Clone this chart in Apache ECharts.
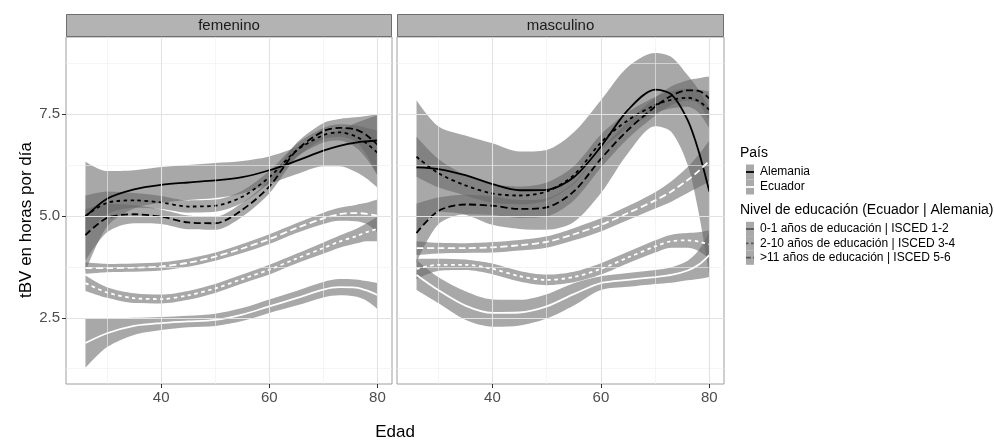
<!DOCTYPE html>
<html><head><meta charset="utf-8">
<script src="https://cdn.jsdelivr.net/npm/echarts@6/dist/echarts.min.js"></script>
<style>html,body{margin:0;padding:0;background:#fff}#c{width:994px;height:441px}</style>
</head><body><div id="c"></div>
<script>
// ---------- DATA ----------
const facets = ['femenino', 'masculino'];
const countries = ['Alemania', 'Ecuador'];
const eduLevels = ['0-1 años de educación | ISCED 1-2', '2-10 años de educación | ISCED 3-4', '>11 años de educación | ISCED 5-6'];
const ages = [26, 30, 35, 40, 45, 50, 55, 60, 65, 70, 73, 76, 78, 80];
const yTicks = [2.5, 5.0, 7.5];
const xTicks = [40, 60, 80];
const yGrid = [1.25, 2.5, 3.75, 5.0, 6.25, 7.5, 8.75];
const xGrid = [30, 40, 50, 60, 70, 80];

// femenino - Alemania
const fem_de_e1    = [4.98, 5.42, 5.65, 5.76, 5.82, 5.87, 5.95, 6.12, 6.35, 6.60, 6.72, 6.80, 6.83, 6.85];
const fem_de_e1_hi = [6.33, 6.10, 6.12, 6.20, 6.25, 6.30, 6.35, 6.46, 6.68, 6.95, 7.10, 7.28, 7.38, 7.47];
const fem_de_e1_lo = [3.63, 4.74, 5.18, 5.32, 5.39, 5.44, 5.55, 5.78, 6.02, 6.22, 6.22, 6.08, 5.92, 5.70];
const fem_de_e2    = [5.00, 5.32, 5.38, 5.33, 5.23, 5.25, 5.47, 5.95, 6.60, 6.98, 7.05, 6.95, 6.78, 6.55];
const fem_de_e2_hi = [5.50, 5.60, 5.56, 5.49, 5.38, 5.40, 5.62, 6.10, 6.76, 7.16, 7.25, 7.22, 7.16, 7.10];
const fem_de_e2_lo = [4.50, 5.04, 5.20, 5.17, 5.08, 5.10, 5.32, 5.80, 6.44, 6.80, 6.85, 6.68, 6.40, 6.00];
const fem_de_e3    = [4.53, 4.95, 5.04, 4.98, 4.84, 4.82, 5.15, 5.72, 6.60, 7.08, 7.16, 7.12, 6.98, 6.75];
const fem_de_e3_hi = [5.16, 5.30, 5.26, 5.16, 5.01, 4.98, 5.32, 5.89, 6.78, 7.28, 7.38, 7.42, 7.45, 7.50];
const fem_de_e3_lo = [3.90, 4.60, 4.82, 4.80, 4.67, 4.66, 4.98, 5.55, 6.42, 6.88, 6.94, 6.82, 6.50, 6.00];
// femenino - Ecuador
const fem_ec_e1    = [1.88, 2.12, 2.30, 2.37, 2.41, 2.45, 2.58, 2.78, 2.98, 3.19, 3.25, 3.24, 3.17, 3.06];
const fem_ec_e1_hi = [2.49, 2.49, 2.50, 2.52, 2.55, 2.60, 2.74, 2.95, 3.16, 3.38, 3.45, 3.44, 3.40, 3.35];
const fem_ec_e1_lo = [1.27, 1.78, 2.08, 2.20, 2.27, 2.30, 2.42, 2.62, 2.80, 3.00, 3.05, 3.02, 2.92, 2.72];
const fem_ec_e2    = [3.35, 3.12, 2.98, 2.96, 3.05, 3.22, 3.45, 3.68, 3.95, 4.21, 4.37, 4.50, 4.60, 4.68];
const fem_ec_e2_hi = [3.54, 3.25, 3.10, 3.07, 3.16, 3.33, 3.56, 3.80, 4.07, 4.35, 4.52, 4.68, 4.82, 4.98];
const fem_ec_e2_lo = [3.16, 2.99, 2.86, 2.85, 2.94, 3.11, 3.34, 3.56, 3.83, 4.07, 4.22, 4.32, 4.38, 4.38];
const fem_ec_e3    = [3.72, 3.72, 3.73, 3.76, 3.85, 4.00, 4.20, 4.43, 4.70, 4.94, 5.04, 5.07, 5.05, 5.00];
const fem_ec_e3_hi = [3.86, 3.82, 3.83, 3.86, 3.95, 4.10, 4.31, 4.55, 4.82, 5.08, 5.20, 5.27, 5.32, 5.40];
const fem_ec_e3_lo = [3.58, 3.62, 3.63, 3.66, 3.75, 3.90, 4.09, 4.31, 4.58, 4.80, 4.88, 4.87, 4.80, 4.60];
// masculino - Alemania
const mas_de_e1    = [6.19, 6.15, 6.00, 5.78, 5.63, 5.64, 5.95, 6.70, 7.60, 8.10, 7.98, 7.35, 6.60, 5.60];
const mas_de_e1_hi = [7.84, 7.20, 6.97, 6.78, 6.58, 6.62, 7.05, 7.84, 8.66, 9.00, 8.90, 8.45, 8.10, 7.65];
const mas_de_e1_lo = [4.55, 5.10, 5.03, 4.78, 4.68, 4.66, 4.85, 5.56, 6.54, 7.20, 7.06, 6.25, 5.10, 3.55];
const mas_de_e2    = [6.45, 6.05, 5.75, 5.55, 5.50, 5.60, 6.00, 6.80, 7.35, 7.72, 7.85, 7.90, 7.82, 7.60];
const mas_de_e2_hi = [6.94, 6.40, 6.00, 5.78, 5.72, 5.82, 6.22, 7.00, 7.55, 7.92, 8.06, 8.12, 8.10, 8.05];
const mas_de_e2_lo = [5.96, 5.70, 5.50, 5.32, 5.28, 5.38, 5.78, 6.60, 7.15, 7.52, 7.64, 7.68, 7.54, 7.15];
const mas_de_e3    = [4.58, 5.12, 5.28, 5.25, 5.17, 5.21, 5.60, 6.40, 7.11, 7.68, 7.95, 8.08, 8.07, 7.88];
const mas_de_e3_hi = [5.30, 5.45, 5.52, 5.48, 5.39, 5.43, 5.82, 6.62, 7.32, 7.90, 8.18, 8.33, 8.38, 8.42];
const mas_de_e3_lo = [3.86, 4.79, 5.04, 5.02, 4.95, 4.99, 5.38, 6.18, 6.90, 7.46, 7.72, 7.83, 7.76, 7.34];
// masculino - Ecuador
const mas_ec_e1    = [3.55, 3.18, 2.80, 2.62, 2.63, 2.78, 3.08, 3.35, 3.43, 3.50, 3.55, 3.66, 3.80, 4.04];
const mas_ec_e1_hi = [3.92, 3.50, 3.15, 2.95, 2.94, 3.08, 3.35, 3.52, 3.60, 3.67, 3.74, 3.90, 4.15, 4.60];
const mas_ec_e1_lo = [3.18, 2.86, 2.45, 2.28, 2.31, 2.48, 2.80, 3.18, 3.26, 3.33, 3.36, 3.42, 3.45, 3.50];
const mas_ec_e2    = [3.70, 3.80, 3.80, 3.70, 3.52, 3.43, 3.50, 3.70, 3.98, 4.25, 4.38, 4.40, 4.37, 4.30];
const mas_ec_e2_hi = [3.95, 3.95, 3.93, 3.83, 3.65, 3.56, 3.63, 3.84, 4.12, 4.40, 4.54, 4.58, 4.60, 4.65];
const mas_ec_e2_lo = [3.45, 3.65, 3.67, 3.57, 3.39, 3.30, 3.37, 3.56, 3.84, 4.10, 4.22, 4.22, 4.14, 3.95];
const mas_ec_e3    = [4.21, 4.21, 4.21, 4.23, 4.28, 4.36, 4.55, 4.78, 5.07, 5.38, 5.60, 5.88, 6.10, 6.35];
const mas_ec_e3_hi = [4.38, 4.34, 4.33, 4.36, 4.41, 4.50, 4.70, 4.94, 5.24, 5.58, 5.85, 6.20, 6.50, 6.85];
const mas_ec_e3_lo = [4.04, 4.08, 4.09, 4.10, 4.15, 4.22, 4.40, 4.62, 4.90, 5.18, 5.35, 5.56, 5.70, 5.85];

// ---------- STRUCTURE ----------
const curves = [
  {f:0, c:0, e:0, y:fem_de_e1, hi:fem_de_e1_hi, lo:fem_de_e1_lo},
  {f:0, c:0, e:1, y:fem_de_e2, hi:fem_de_e2_hi, lo:fem_de_e2_lo},
  {f:0, c:0, e:2, y:fem_de_e3, hi:fem_de_e3_hi, lo:fem_de_e3_lo},
  {f:0, c:1, e:0, y:fem_ec_e1, hi:fem_ec_e1_hi, lo:fem_ec_e1_lo},
  {f:0, c:1, e:1, y:fem_ec_e2, hi:fem_ec_e2_hi, lo:fem_ec_e2_lo},
  {f:0, c:1, e:2, y:fem_ec_e3, hi:fem_ec_e3_hi, lo:fem_ec_e3_lo},
  {f:1, c:0, e:0, y:mas_de_e1, hi:mas_de_e1_hi, lo:mas_de_e1_lo},
  {f:1, c:0, e:1, y:mas_de_e2, hi:mas_de_e2_hi, lo:mas_de_e2_lo},
  {f:1, c:0, e:2, y:mas_de_e3, hi:mas_de_e3_hi, lo:mas_de_e3_lo},
  {f:1, c:1, e:0, y:mas_ec_e1, hi:mas_ec_e1_hi, lo:mas_ec_e1_lo},
  {f:1, c:1, e:1, y:mas_ec_e2, hi:mas_ec_e2_hi, lo:mas_ec_e2_lo},
  {f:1, c:1, e:2, y:mas_ec_e3, hi:mas_ec_e3_hi, lo:mas_ec_e3_lo}
];

const FONT = '"Liberation Sans", Arial, Helvetica, sans-serif';
const RIBBON = 'rgba(102,102,102,0.57)';
const LINE_COLORS = ['#000000', '#ffffff'];
const DASHES = ['solid', [3.5, 3.5], [7, 3.5]];
const KEY_DASHES = [null, [2.5, 2.5], [5, 2]];
const SMOOTH = 0.3;

// same smoothing algorithm as ECharts line series
function smoothSeg(pts, smooth, cmds) {
  let cpx0 = pts[0][0], cpy0 = pts[0][1];
  let prevX = pts[0][0], prevY = pts[0][1];
  for (let k = 1; k < pts.length; k++) {
    const x = pts[k][0], y = pts[k][1];
    let cpx1, cpy1, nx0 = x, ny0 = y;
    if (k === pts.length - 1) { cpx1 = x; cpy1 = y; }
    else {
      const nextX = pts[k + 1][0], nextY = pts[k + 1][1];
      let vx = nextX - prevX, vy = nextY - prevY;
      const lenPrev = Math.hypot(x - prevX, y - prevY);
      const lenNext = Math.hypot(nextX - x, nextY - y);
      const ratio = lenNext / (lenNext + lenPrev);
      nx0 = x + vx * smooth * ratio; ny0 = y + vy * smooth * ratio;
      nx0 = Math.min(nx0, Math.max(nextX, x)); ny0 = Math.min(ny0, Math.max(nextY, y));
      nx0 = Math.max(nx0, Math.min(nextX, x)); ny0 = Math.max(ny0, Math.min(nextY, y));
      vx = nx0 - x; vy = ny0 - y;
      cpx1 = x - vx * lenPrev / lenNext; cpy1 = y - vy * lenPrev / lenNext;
      cpx1 = Math.min(cpx1, Math.max(prevX, x)); cpy1 = Math.min(cpy1, Math.max(prevY, y));
      cpx1 = Math.max(cpx1, Math.min(prevX, x)); cpy1 = Math.max(cpy1, Math.min(prevY, y));
      vx = x - cpx1; vy = y - cpy1;
      nx0 = x + vx * lenNext / lenPrev; ny0 = y + vy * lenNext / lenPrev;
    }
    cmds.push('C' + cpx0 + ',' + cpy0 + ',' + cpx1 + ',' + cpy1 + ',' + x + ',' + y);
    cpx0 = nx0; cpy0 = ny0; prevX = x; prevY = y;
  }
}

const grids = [
  {left: 66, top: 37, width: 326, height: 347, show: true, backgroundColor: '#fff', borderColor: '#9e9e9e', borderWidth: 1},
  {left: 397, top: 37, width: 327, height: 347, show: true, backgroundColor: '#fff', borderColor: '#9e9e9e', borderWidth: 1}
];

const xAxes = [0, 1].map(g => ({
  type: 'value', gridIndex: g, min: 22.4, max: 82.7,
  splitLine: {show: false}, axisLine: {show: false},
  axisTick: {show: true, customValues: xTicks, length: 4, lineStyle: {color: '#333'}},
  axisLabel: {customValues: xTicks, color: '#4d4d4d', fontSize: 15, fontFamily: FONT, margin: 6}
}));
const yAxes = [0, 1].map(g => ({
  type: 'value', gridIndex: g, min: 0.875, max: 9.39,
  splitLine: {show: false}, axisLine: {show: false},
  axisTick: {show: g === 0, customValues: yTicks, length: 4, lineStyle: {color: '#333'}},
  axisLabel: {show: g === 0, customValues: yTicks, color: '#4d4d4d', fontSize: 15, fontFamily: FONT, margin: 6,
    formatter: v => v.toFixed(1)}
}));

const series = [];
[0, 1].forEach(g => {
  // grid lines
  series.push({
    type: 'line', xAxisIndex: g, yAxisIndex: g, data: [], z: 1, silent: true,
    markLine: {
      silent: true, symbol: 'none', animation: false, label: {show: false},
      data: yGrid.map(v => ({yAxis: v, lineStyle: {color: yTicks.includes(v) ? '#e2e2e2' : '#eeeeee', width: yTicks.includes(v) ? 1.1 : 0.6, type: 'solid'}}))
        .concat(xGrid.map(v => ({xAxis: v, lineStyle: {color: xTicks.includes(v) ? '#e2e2e2' : '#eeeeee', width: xTicks.includes(v) ? 1.1 : 0.6, type: 'solid'}})))
    }
  });
  // confidence ribbons
  series.push({
    type: 'custom', xAxisIndex: g, yAxisIndex: g, z: 2, silent: true, clip: true,
    data: curves.map((c, i) => [50, 5, i]).filter(d => curves[d[2]].f === g),
    renderItem: (params, api) => {
      const c = curves[api.value(2)];
      const up = ages.map((a, k) => api.coord([a, c.hi[k]]));
      const lo = ages.map((a, k) => api.coord([a, c.lo[k]])).reverse();
      const cmds = ['M' + up[0][0] + ',' + up[0][1]];
      smoothSeg(up, SMOOTH, cmds);
      cmds.push('L' + lo[0][0] + ',' + lo[0][1]);
      smoothSeg(lo, SMOOTH, cmds);
      cmds.push('Z');
      return {type: 'path', shape: {pathData: cmds.join(' ')}, style: {fill: RIBBON}};
    }
  });
});
curves.forEach(c => {
  series.push({
    type: 'line', name: facets[c.f] + ' - ' + countries[c.c] + ' - ' + eduLevels[c.e],
    xAxisIndex: c.f, yAxisIndex: c.f, z: 3, silent: true,
    smooth: SMOOTH, showSymbol: false, symbol: 'none',
    data: ages.map((a, k) => [a, c.y[k]]),
    lineStyle: {color: LINE_COLORS[c.c], width: 1.8, type: DASHES[c.e]},
    emphasis: {disabled: true}
  });
});

// strips, titles, legend
const graphic = [];
[0, 1].forEach(g => {
  const gr = grids[g];
  graphic.push({type: 'rect', shape: {x: gr.left + 0.5, y: 14.5, width: gr.width - 1, height: 22}, style: {fill: '#b3b3b3', stroke: '#6e6e6e', lineWidth: 1}, z: 10});
  graphic.push({type: 'text', x: gr.left + gr.width / 2, y: 25.5, style: {text: facets[g], fill: '#1a1a1a', font: '15px ' + FONT, textAlign: 'center', textVerticalAlign: 'middle'}, z: 11});
});
graphic.push({type: 'text', x: 395, y: 432, style: {text: 'Edad', fill: '#000', font: '17px ' + FONT, textAlign: 'center', textVerticalAlign: 'middle'}});
graphic.push({type: 'text', x: 26, y: 220, rotation: Math.PI / 2, style: {text: 'tBV en horas por día', fill: '#000', font: '17px ' + FONT, textAlign: 'center', textVerticalAlign: 'middle'}});
// legend: País
graphic.push({type: 'text', x: 740, y: 153, style: {text: 'País', fill: '#000', font: '14px ' + FONT, textVerticalAlign: 'middle'}});
countries.forEach((name, i) => {
  const y = 172 + i * 15;
  graphic.push({type: 'rect', shape: {x: 746, y: y - 7.5, width: 8, height: 15}, style: {fill: '#a9a9a9'}});
  graphic.push({type: 'line', shape: {x1: 746, y1: y, x2: 754, y2: y}, style: {stroke: LINE_COLORS[i], lineWidth: 1.8}});
  graphic.push({type: 'text', x: 760, y: y, style: {text: name, fill: '#000', font: '12px ' + FONT, textVerticalAlign: 'middle'}});
});
// legend: Nivel de educación
graphic.push({type: 'text', x: 740, y: 210, style: {text: 'Nivel de educación (Ecuador | Alemania)', fill: '#000', font: '14px ' + FONT, textVerticalAlign: 'middle'}});
eduLevels.forEach((name, i) => {
  const y = 229 + i * 14.3;
  graphic.push({type: 'rect', shape: {x: 746, y: y - 7.2, width: 8, height: 14.4}, style: {fill: '#a9a9a9'}});
  graphic.push({type: 'line', shape: {x1: 746, y1: y, x2: 754, y2: y}, style: {stroke: '#575757', lineWidth: 1.8, lineDash: KEY_DASHES[i]}});
  graphic.push({type: 'text', x: 760, y: y, style: {text: name, fill: '#000', font: '12px ' + FONT, textVerticalAlign: 'middle'}});
});

const chart = echarts.init(document.getElementById('c'), null, {renderer: 'canvas'});
chart.setOption({
  backgroundColor: '#fff',
  animation: false,
  textStyle: {fontFamily: FONT},
  grid: grids,
  xAxis: xAxes,
  yAxis: yAxes,
  series: series,
  graphic: graphic
});
</script>
</body></html>
